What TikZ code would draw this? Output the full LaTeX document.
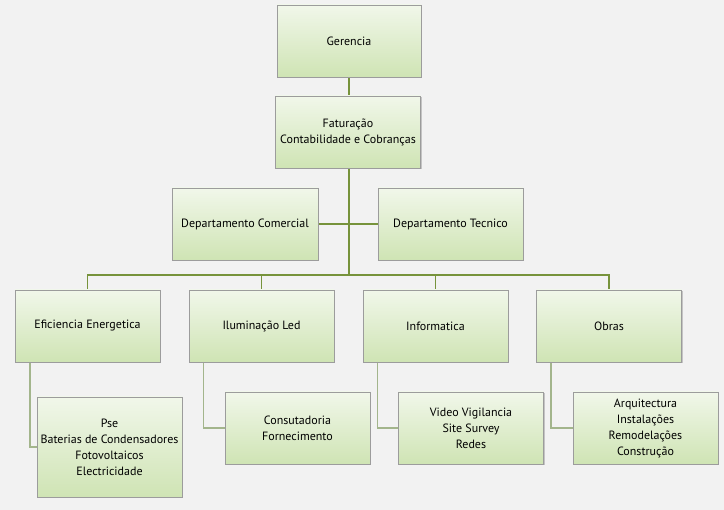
\documentclass[tikz,border=0pt]{standalone}
\usepackage{fontspec}
\setmainfont{PT Sans}
\usetikzlibrary{shadows,backgrounds}
\definecolor{bgc}{HTML}{F2F2F2}
\definecolor{topg}{HTML}{F1F7EA}
\definecolor{botg}{HTML}{CFE4B4}
\definecolor{edgec}{HTML}{9C9C9C}
\definecolor{mainline}{HTML}{77933C}
\definecolor{subline}{HTML}{A3B58C}
\tikzset{
  orgbox/.style={rectangle, draw=edgec, line width=0.8pt, top color=topg, bottom color=botg,
    minimum width=145pt, minimum height=72pt, inner sep=2pt, align=center,
    font=\fontsize{12}{16}\selectfont, text=black,
    drop shadow={shadow xshift=1.2pt, shadow yshift=-1.2pt, fill=black!35, opacity=0.6}},
  mainedge/.style={draw=mainline, line width=1.8pt},
  subedge/.style={draw=subline, line width=1.3pt}
}
\begin{document}
\begin{tikzpicture}[x=1pt,y=-1pt]
\useasboundingbox (0,0) rectangle (724,510);
\node[orgbox, minimum width=144pt] (ger) at (349,41) {Gerencia};
\node[orgbox] (fat) at (348,132) {Faturação\\Contabilidade e Cobranças};
\node[orgbox, minimum width=146pt] (com) at (245,224) {Departamento Comercial};
\node[orgbox] (tec) at (450.5,224) {Departamento Tecnico};
\node[orgbox] (efi) at (87.5,326) {Eficiencia Energetica};
\node[orgbox] (ilu) at (261.5,326) {Iluminação Led};
\node[orgbox] (inf) at (435.5,326) {Informatica};
\node[orgbox] (obr) at (609,326) {Obras};
\node[orgbox, minimum height=100pt] (pse) at (109.5,447) {Pse\\Baterias de Condensadores\\Fotovoltaicos\\Electricidade};
\node[orgbox] (con) at (297.5,428) {Consutadoria\\Fornecimento};
\node[orgbox] (vid) at (471,428) {Video Vigilancia\\Site Survey\\Redes};
\node[orgbox] (arq) at (645.5,428) {Arquitectura\\Instalações\\Remodelações\\Construção};
\coordinate (busc) at (349,275);
\coordinate (efis) at (30,362);
\coordinate (ilus) at (203.5,362);
\coordinate (infs) at (377.5,362);
\coordinate (obrs) at (551,363);
\begin{pgfonlayer}{background}
\fill[bgc] (0,0) rectangle (724,510);
\draw[mainedge] (ger.south -| busc) -- (fat.north -| busc);
\draw[mainedge] (fat.south -| busc) -- (busc);
\draw[mainedge] (com.east) -- (tec.west);
\draw[mainedge] (efi.north) |- (busc) -| (obr.north);
\draw[mainedge] (ilu.north) -- (ilu.north |- busc);
\draw[mainedge] (inf.north) -- (inf.north |- busc);
\draw[subedge] (efis) |- (pse.west);
\draw[subedge] (ilus) |- (con.west);
\draw[subedge] (infs) |- (vid.west);
\draw[subedge] (obrs) |- (arq.west);
\end{pgfonlayer}
\end{tikzpicture}
\end{document}
